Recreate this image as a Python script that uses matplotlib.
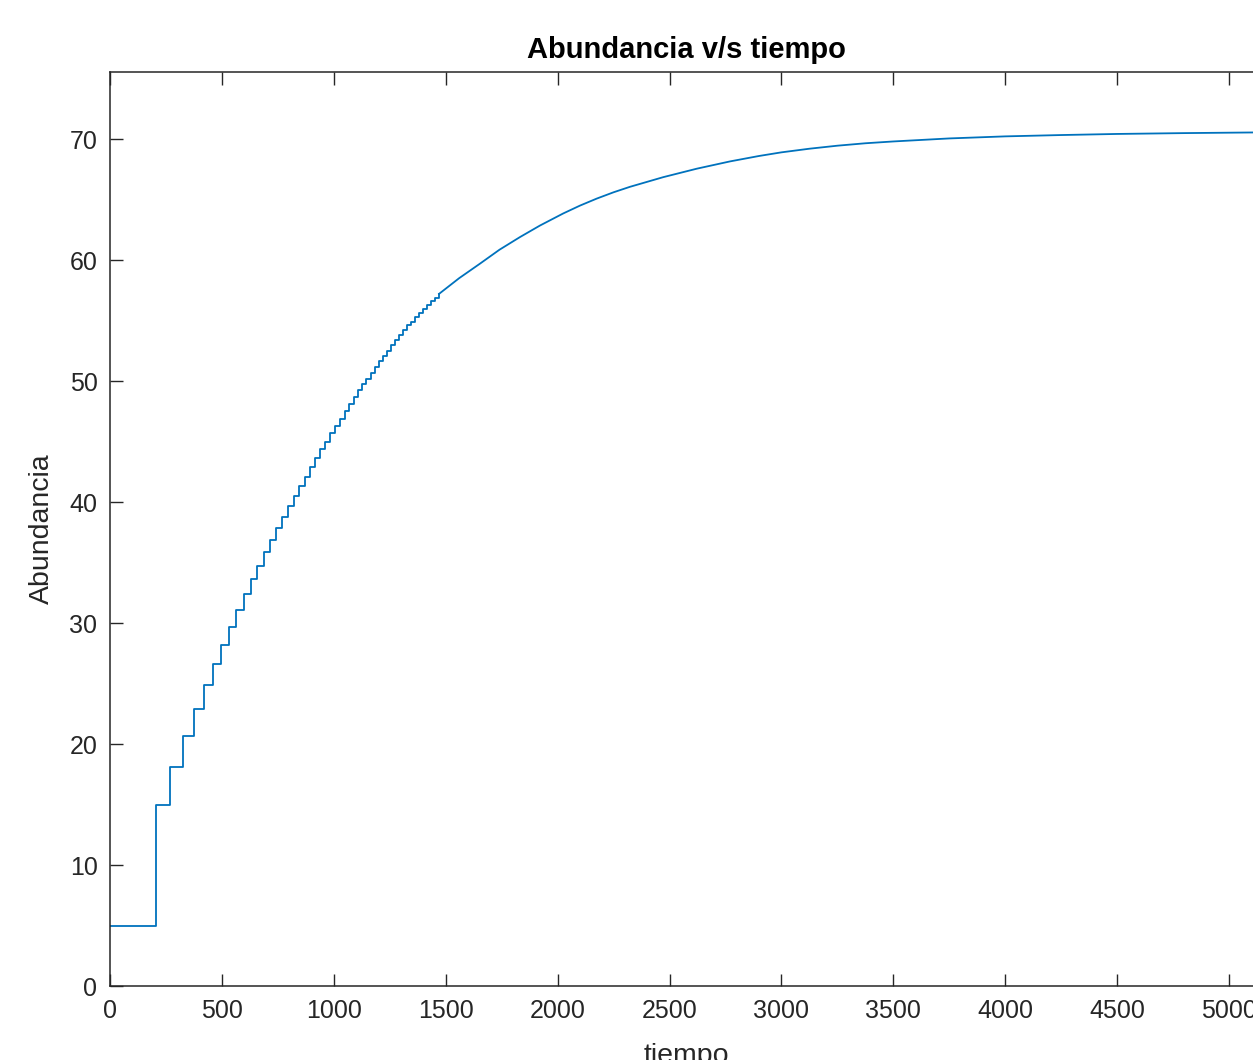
import matplotlib
matplotlib.use("Agg")
import matplotlib.pyplot as plt

# ========================= data ==============================================

n_start = 5.0

# times of the jumps and the level reached after each jump
step_t = [204, 269, 326, 374, 419, 459, 496, 532, 565, 598,
          629, 658, 687, 715, 743, 770, 795, 821, 846, 870,
          894, 916, 940, 961, 983, 1005, 1028, 1050, 1070, 1089,
          1108, 1127, 1146, 1164, 1183, 1202, 1220, 1238, 1256, 1273,
          1291, 1309, 1327, 1345, 1363, 1381, 1399, 1416, 1434, 1452,
          1470]
step_n = [15.0, 18.1, 20.7, 22.9, 24.85, 26.6, 28.2, 29.7, 31.1, 32.4,
          33.6, 34.7, 35.85, 36.85, 37.85, 38.8, 39.7, 40.5, 41.35, 42.1,
          42.9, 43.6, 44.4, 45.0, 45.7, 46.3, 46.9, 47.5, 48.1, 48.7,
          49.26, 49.73, 50.2, 50.7, 51.2, 51.65, 52.1, 52.5, 52.95, 53.4,
          53.8, 54.2, 54.6, 54.9, 55.25, 55.65, 55.95, 56.3, 56.6, 56.9,
          57.2]

# after ~1500 the steps are too fine to read, so the curve is read as a line
tail_t = [1470, 1560, 1653, 1740, 1832, 1921, 2025, 2100, 2175, 2250,
          2323, 2472, 2622, 2770, 2900, 3000, 3125, 3250, 3375, 3500,
          3750, 4000, 4250, 4500, 4800, 5147]
tail_n = [57.2, 58.5, 59.7, 60.85, 61.9, 62.85, 63.85, 64.5, 65.08, 65.6,
          66.05, 66.85, 67.55, 68.15, 68.6, 68.9, 69.2, 69.45, 69.65, 69.8,
          70.05, 70.22, 70.33, 70.42, 70.49, 70.55]

# ========================= plot ==============================================

plt.rcParams['font.family'] = ['Liberation Sans', 'DejaVu Sans']
line_color = '#0072BD'
axis_color = '#262626'

fig = plt.figure(figsize=(12.53, 10.6), dpi=100)
# axes runs slightly past the right edge of the picture (cropped like the original)
ax = fig.add_axes([110 / 1253, 74 / 1060, 1152 / 1253, 914 / 1060])

ax.step([0] + step_t, [n_start] + step_n, where='post', color=line_color, lw=1.3)
ax.plot(tail_t, tail_n, color=line_color, lw=1.3)

ax.set_xlim(0, 5147)
ax.set_ylim(0, 75.54)
ax.set_xticks(range(0, 5001, 500))
ax.set_yticks(range(0, 71, 10))

for side in ['top', 'bottom', 'left', 'right']:
    ax.spines[side].set_color(axis_color)
    ax.spines[side].set_linewidth(1.1)

ax.tick_params(direction='in', length=9, width=1.0, colors=axis_color,
               labelsize=18, top=True, right=False, pad=9)

ax.set_title('Abundancia v/s tiempo', fontsize=21, fontweight='bold', pad=10,
             color='black')
ax.set_xlabel('tiempo', fontsize=20.5, color=axis_color, va='top')
ax.set_ylabel('Abundancia', fontsize=20.5, color=axis_color)
ax.xaxis.set_label_coords(0.5, -0.062)
ax.yaxis.set_label_coords(-0.048, 0.5)

plt.savefig('out.png', dpi=100)
